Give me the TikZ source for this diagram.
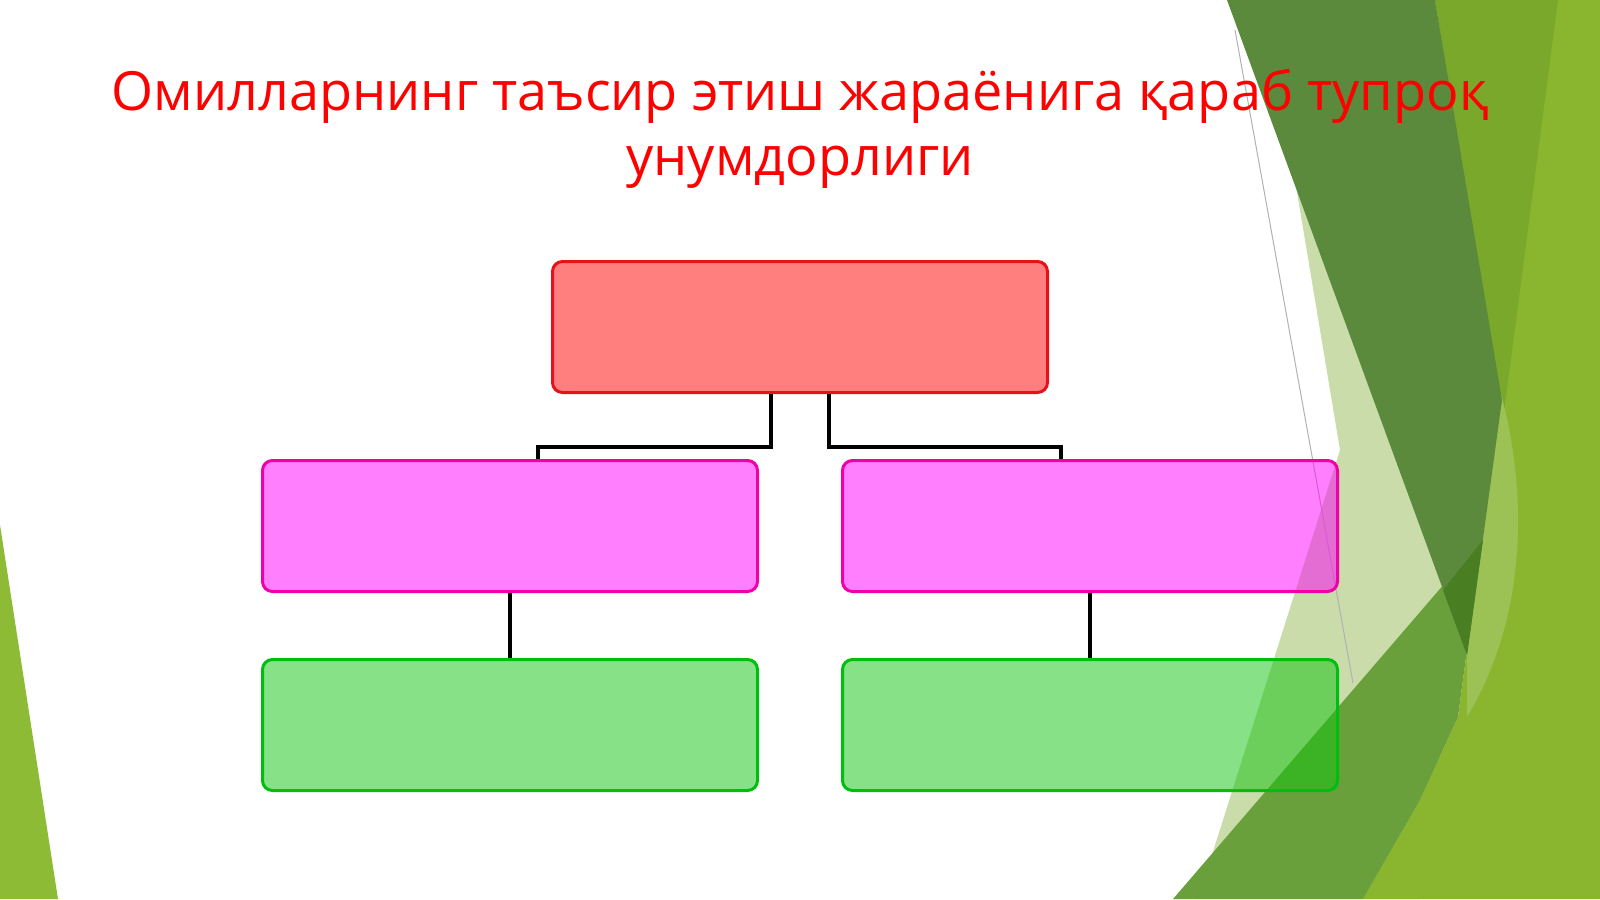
\documentclass[tikz,border=0pt]{standalone}
\usepackage{fontspec}
\usepackage{tikz}
\usetikzlibrary{positioning}

\newfontfamily\titlefont{Open Sans}
\definecolor{leaf}{HTML}{8DBB35}
\definecolor{pale}{HTML}{C9DCAA}
\definecolor{lime}{HTML}{8AB52F}
\definecolor{limedark}{HTML}{7AA82B}
\definecolor{limelight}{HTML}{9CC256}
\definecolor{moss}{HTML}{6AA03B}
\definecolor{forest}{HTML}{5C8A3C}
\definecolor{forestdeep}{HTML}{4A7E22}
\definecolor{boxred}{RGB}{255,0,0}
\definecolor{boxpink}{RGB}{255,0,255}
\definecolor{boxgreen}{RGB}{16,196,16}
\definecolor{edgered}{HTML}{E8101A}
\definecolor{edgepink}{HTML}{F000A8}
\definecolor{edgegreen}{HTML}{00BE10}

\begin{document}
\begin{tikzpicture}[x=0.5pt,y=-0.5pt,node distance=99.5pt,on grid,
		box/.style={rectangle,rounded corners=5pt,minimum width=247.5pt,minimum height=65.5pt,inner sep=0pt,line width=1.5pt},
		redbox/.style={box,draw=edgered,fill=boxred,fill opacity=0.5},
		pinkbox/.style={box,draw=edgepink,fill=boxpink,fill opacity=0.5},
		greenbox/.style={box,draw=edgegreen,fill=boxgreen,fill opacity=0.5},
		link/.style={line width=2pt,black},
		heading/.style={anchor=base,text=red,font=\titlefont\fontsize{27pt}{32pt}\selectfont}]
		
		\useasboundingbox (0,0) rectangle (1600,899);
		\fill[white] (0,0) rectangle (1600,899);
		
		% background facets
		\fill[leaf] (0,525) -- (58,899) -- (0,899) -- cycle;
		\fill[pale] (1295,180) -- (1340,450) -- (1198,899) -- (1420,899) -- (1480,450) -- (1400,180) -- cycle;
		\fill[lime] (1435,0) -- (1600,0) -- (1600,899) -- (1363,899) -- (1420,800) -- (1458,717) -- (1467,650) -- (1482,540) -- (1502,400) -- cycle;
		\fill[limedark] (1435,0) -- (1558,0) -- (1503,420) -- cycle;
		\fill[limelight] (1500,390) .. controls (1530,500) and (1525,620) .. (1467,717) -- (1467,650) -- (1482,540) -- (1502,400) -- cycle;
		\fill[moss] (1173,899) -- (1482,540) -- (1467,650) -- (1458,717) -- (1420,800) -- (1363,899) -- cycle;
		\fill[forest] (1227,0) -- (1435,0) -- (1502,400) -- (1467,655) -- cycle;
		\fill[forestdeep] (1443,590) -- (1483,540) -- (1467,655) -- cycle;
		\draw[gray!60,line width=0.5pt] (1235,30) -- (1353,683);
		
		% boxes
		\node (top) [redbox] at (800,327) {};
		\node (pinkL) [pinkbox, below left=99.5pt and 145pt of top] {};
		\node (pinkR) [pinkbox, below right=99.5pt and 145pt of top] {};
		\node (greenL) [greenbox, below=of pinkL] {};
		\node (greenR) [greenbox, below=of pinkR] {};
		
		\draw [link] ([xshift=-14.5pt]top.south) |- ([xshift=14pt,yshift=6pt]pinkL.north) -- ([xshift=14pt]pinkL.north);
		\draw [link] ([xshift=14.5pt]top.south) |- ([xshift=-14.5pt,yshift=6pt]pinkR.north) -- ([xshift=-14.5pt]pinkR.north);
		\draw [link] (pinkL) -- (greenL);
		\draw [link] (pinkR) -- (greenR);
		
		% title
		\node (title1) [heading] at (800,111) {Омилларнинг таъсир этиш жараёнига қараб тупроқ};
		\node (title2) [heading] at (800,176) {унумдорлиги};
		
	\end{tikzpicture}
\end{document}
